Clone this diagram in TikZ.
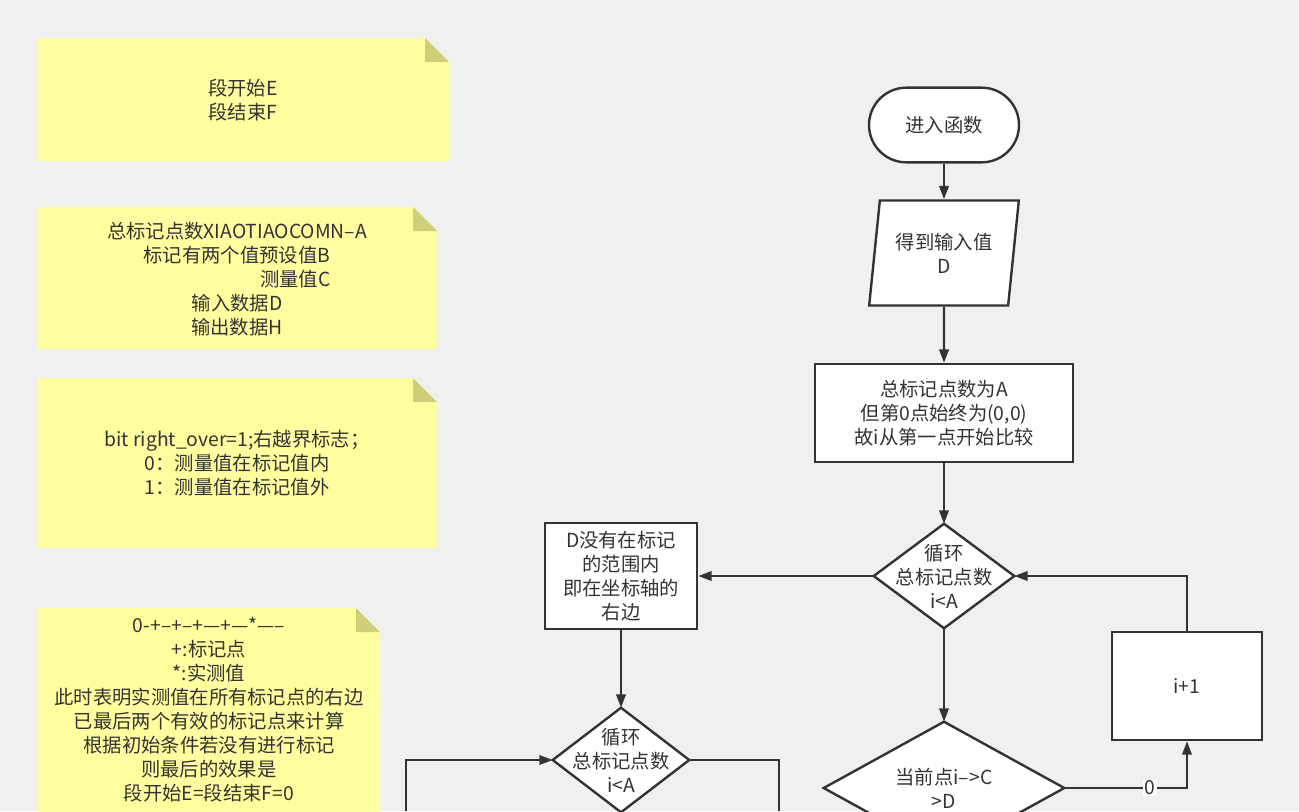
\documentclass[tikz,border=0pt]{standalone}
\usepackage{fontspec}
\setmainfont{Noto Sans CJK SC}[Ligatures=ResetAll]
\usetikzlibrary{shapes.geometric,arrows.meta}
\definecolor{bg}{HTML}{F0F0F0}
\definecolor{note}{HTML}{FFFF9F}
\definecolor{fold}{HTML}{CFCF7A}
\definecolor{ink}{HTML}{333333}
\newlength\lwB
\newcommand{\mynote}[5]{% x1,y1,x2,y2,name
  \fill[note] (#1,#2) -- (#3-24,#2) -- (#3,#2+24) -- (#3,#4) -- (#1,#4) -- cycle;
  \fill[fold] (#3-24,#2) -- (#3,#2+24) -- (#3-24,#2+24) -- cycle;
  \coordinate (#5) at ({(#1+#3)/2},{(#2+#4)/2});}
\newcommand{\mydia}[1]{\filldraw[fill=white,draw=ink,line width=1.8pt,line join=miter] (#1.north) -- (#1.east) -- (#1.south) -- (#1.west) -- cycle;}
\begin{document}
\begin{tikzpicture}[x=0.75pt,y=-0.75pt,
  every node/.style={font=\fontsize{14.5}{18}\selectfont,text=ink,align=center},
  box/.style={draw=ink,line width=1.8pt,fill=white,inner sep=0pt},
  dia/.style={inner sep=0pt},
  arr/.style={draw=ink,line width=1.8pt,-{Triangle[length=10pt,width=7pt]}},
  ln/.style={draw=ink,line width=1.8pt}]
\useasboundingbox (0,0) rectangle (1299,811);
\clip (0,0) rectangle (1299,811);
\fill[bg] (0,0) rectangle (1299,811);
% notes
\mynote{38}{38}{449}{161}{n1}
\node (t1) at (243,100) {段开始E\\段结束F};
\mynote{38}{207}{437}{349}{n2}
\node (t2) at (237,279) {总标记点数XIAOTIAOCOMN--A\\标记有两个值预设值B\\\settowidth\lwB{标记有两个值预设值B}\makebox[\lwB][r]{测量值C}\\输入数据D\\输出数据H};
\mynote{38}{378}{437}{548}{n3}
\node (t3) at (237,463) {bit right\_over=1;右越界标志；\\0：测量值在标记值内\\1：测量值在标记值外};
\mynote{38}{608}{380}{900}{n4}
\node[anchor=north] (t4) at (209,612) {0-+--+--+---+---*-----\\+:标记点\\*:实测值\\此时表明实测值在所有标记点的右边\\已最后两个有效的标记点来计算\\根据初始条件若没有进行标记\\则最后的效果是\\段开始E=段结束F=0};
% flow
\node[box,rounded corners=28pt,minimum width=112.5pt,minimum height=56pt] (start) at (944,125) {进入函数};
\node[box,trapezium,trapezium left angle=78.7,trapezium right angle=101.3,trapezium stretches=true,minimum width=112.5pt,minimum height=78.75pt] (in) at (944,253) {得到输入值\\D};
\node[box,minimum width=193.5pt,minimum height=73.5pt] (init) at (944,413) {总标记点数为A\\但第0点始终为(0,0)\\故i从第一点开始比较};
\node[dia,minimum width=105pt,minimum height=78pt] (loop1) at (944,576) {};
\mydia{loop1}
\node at (loop1) {循环\\总标记点数\\i<A};
\node[box,minimum width=114pt,minimum height=79.5pt] (right) at (621,576) {D没有在标记\\的范围内\\即在坐标轴的\\右边};
\node[dia,minimum width=102pt,minimum height=78pt] (loop2) at (621,760) {};
\mydia{loop2}
\node at (loop2) {循环\\总标记点数\\i<A};
\node[dia,minimum width=180pt,minimum height=99pt] (cmp) at (944,788) {};
\mydia{cmp}
\node at (cmp) {当前点i-->C\\>D};
\node[box,minimum width=112.5pt,minimum height=81pt] (inc) at (1187,686) {i+1};
\coordinate (c1) at (406,811);
\coordinate (c2) at (779,811);
\draw[arr] (start) -- (in);
\draw[arr] (in) -- (init);
\draw[arr] (init) -- (loop1.north);
\draw[arr] (loop1.west) -- (right.east);
\draw[arr] (right) -- (loop2.north);
\draw[arr] (loop1.south) -- (cmp.north);
\draw[arr] (c1) |- (loop2.west);
\draw[ln] (loop2.east) -| (c2);
\draw[arr] (cmp.east) -| node[pos=0.35,fill=white,inner sep=1pt] {0} (inc.south);
\draw[arr] (inc.north) |- (loop1.east);
\end{tikzpicture}
\end{document}
